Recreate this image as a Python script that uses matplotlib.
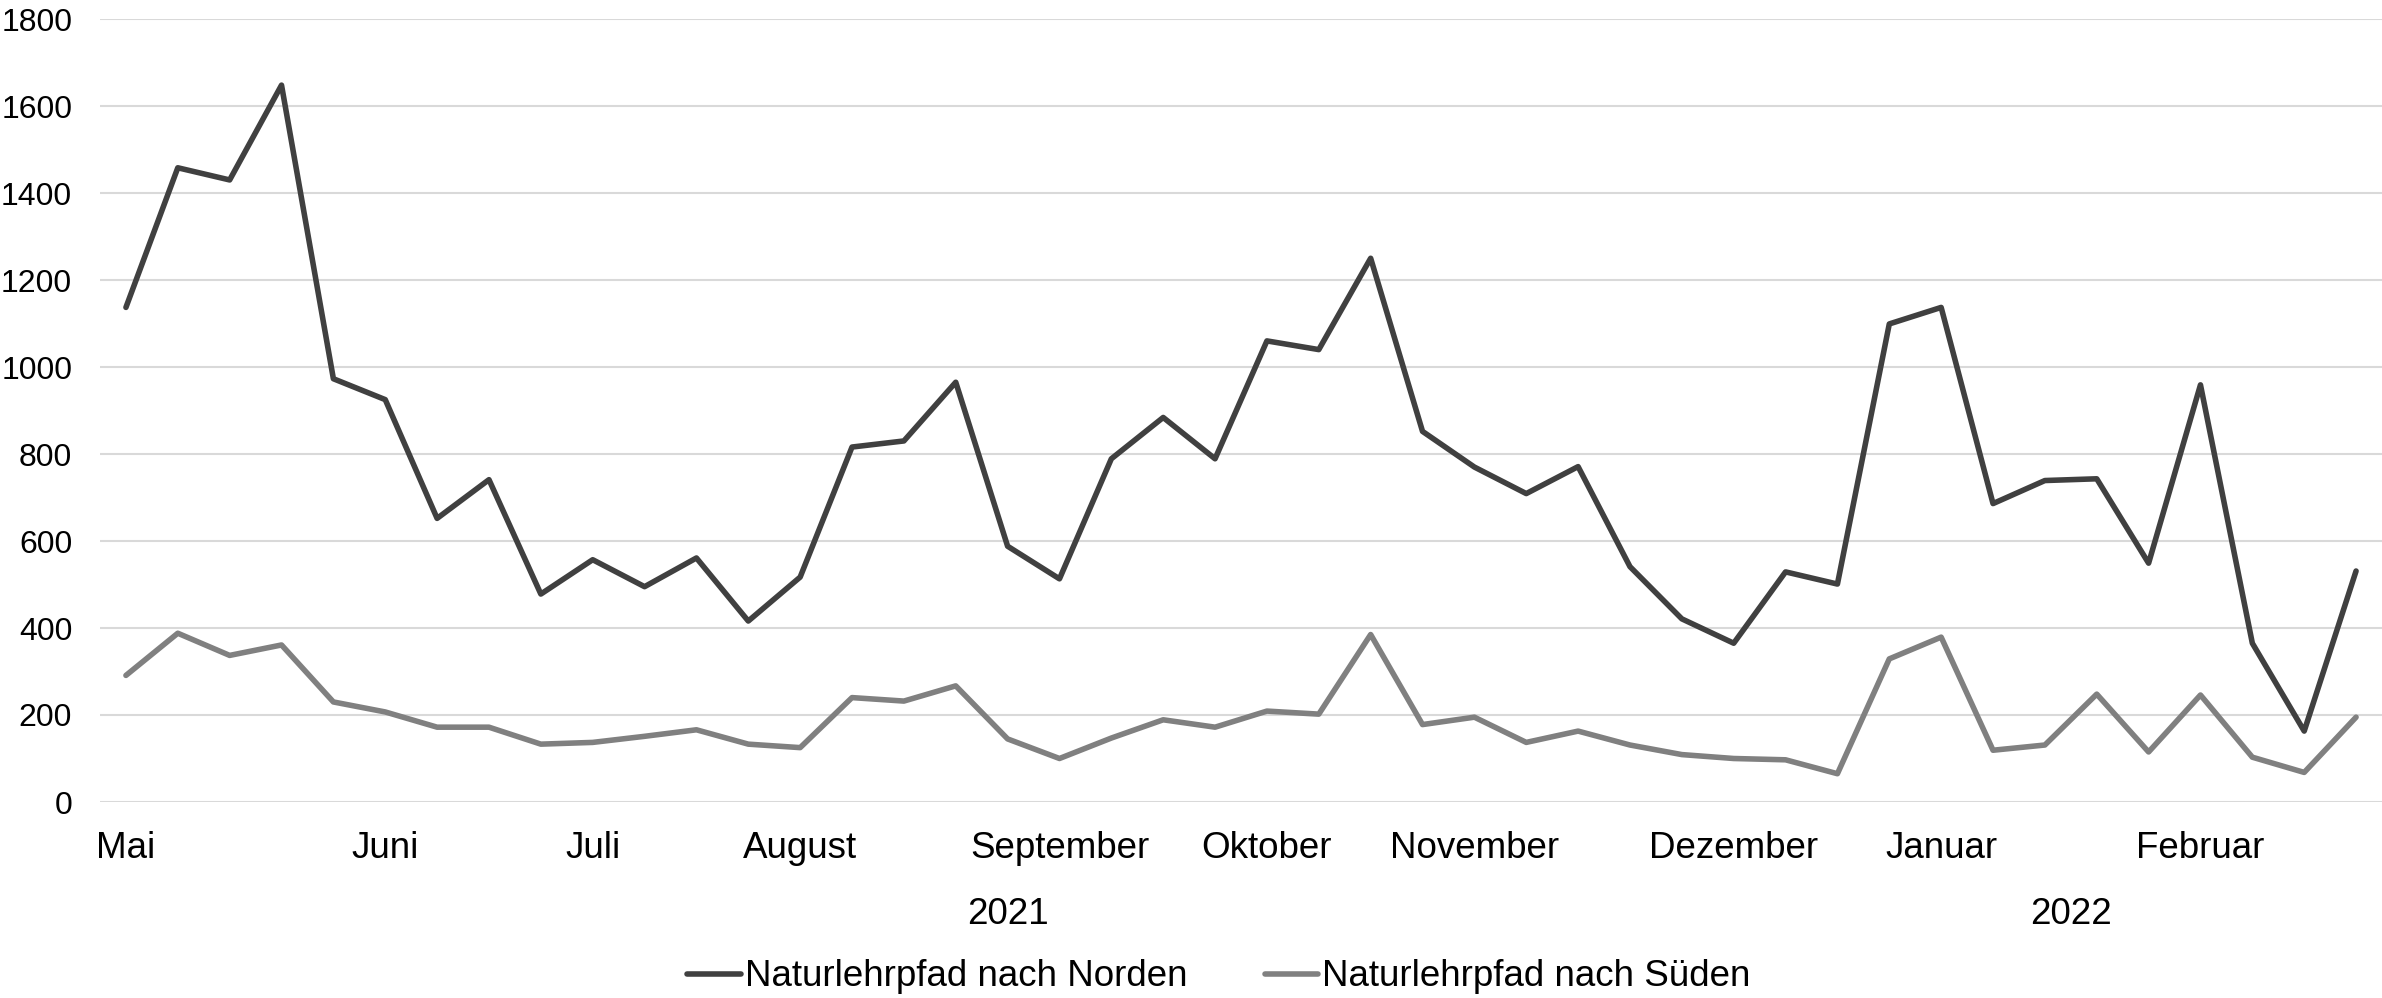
import numpy as np
import matplotlib.pyplot as plt
from matplotlib import transforms

plt.rcParams['font.family'] = ['Liberation Sans', 'DejaVu Sans']

# weekly counts, May 2021 - Feb 2022
nord = [1137, 1458, 1430, 1648, 973, 925, 652, 741, 478, 557,
        495, 561, 416, 517, 816, 830, 965, 588, 513, 789,
        884, 789, 1060, 1040, 1250, 852, 770, 709, 771, 541,
        421, 365, 529, 501, 1099, 1137, 686, 739, 743, 549,
        959, 365, 163, 531]
sued = [291, 388, 337, 361, 230, 207, 172, 172, 133, 137,
        151, 166, 133, 125, 240, 232, 267, 145, 100, 147,
        189, 172, 209, 202, 385, 178, 195, 137, 163, 131,
        109, 100, 97, 65, 329, 379, 119, 131, 248, 115,
        246, 103, 68, 195]

month_labels = ['Mai', 'Juni', 'Juli', 'August', 'September', 'Oktober',
                'November', 'Dezember', 'Januar', 'Februar']
month_pos = [0, 5, 9, 13, 18, 22, 26, 31, 35, 40]
year_labels = ['2021', '2022']
year_pos = [17, 37.5]
series_names = ['Naturlehrpfad nach Norden', 'Naturlehrpfad nach Süden']

W, H = 2382, 998
fig = plt.figure(figsize=(W / 100, H / 100), dpi=100)
ax = fig.add_axes([100 / W, 1 - 802 / H, (2382 - 100) / W, (802 - 19) / H])

x = np.arange(len(nord))
ax.plot(x, nord, color='#404040', lw=4.0, solid_joinstyle='round',
        solid_capstyle='round', label=series_names[0], zorder=3)
ax.plot(x, sued, color='#808080', lw=4.0, solid_joinstyle='round',
        solid_capstyle='round', label=series_names[1], zorder=3)

ax.set_xlim(-0.5, len(nord) - 0.5)
ax.set_ylim(0, 1800)
ax.set_yticks(np.arange(0, 1801, 200))
ax.grid(axis='y', color='#d9d9d9', lw=1.5)
ax.set_axisbelow(True)
for s in ax.spines.values():
    s.set_visible(False)

ax.tick_params(axis='y', length=0, pad=20, labelsize=23)
ax.set_xticks(month_pos, month_labels)
ax.tick_params(axis='x', length=0, pad=21, labelsize=26.5)

trans = transforms.blended_transform_factory(ax.transData, fig.transFigure)
for lab, p in zip(year_labels, year_pos):
    ax.text(p, 1 - 915 / H, lab, transform=trans, ha='center', va='center',
            fontsize=26.5)

fig.legend(loc='center', bbox_to_anchor=(1219 / W, 1 - 977 / H), ncol=2,
           frameon=False, fontsize=26.5, handlelength=1.45,
           handletextpad=0.12, columnspacing=2.1, borderaxespad=0)

fig.savefig('out.png', dpi=100)
